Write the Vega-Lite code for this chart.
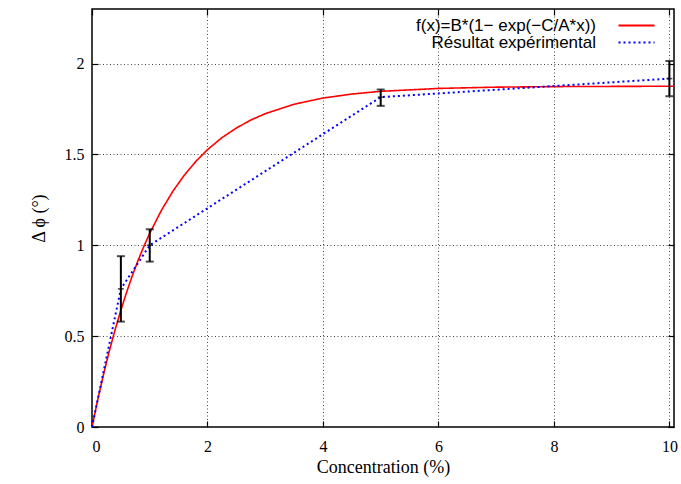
{
  "$schema": "https://vega.github.io/schema/vega-lite/v6.json",
  "width": 582,
  "height": 418,
  "autosize": {"type": "none"},
  "padding": {"left": 92, "top": 9, "right": 7, "bottom": 57},
  "background": "white",
  "config": {
    "view": {"stroke": "#000", "strokeWidth": 1.5},
    "axis": {
      "labelFont": "Liberation Serif", "labelFontSize": 16, "labelColor": "#000",
      "titleFont": "Liberation Serif", "titleFontSize": 18, "titleFontWeight": "normal", "titleColor": "#000",
      "domain": false, "tickColor": "#000", "tickWidth": 1.2, "tickSize": -6,
      "gridColor": "#444", "gridDash": [1, 2.5], "gridWidth": 1, "format": "~r"
    },
    "legend": {"labelFont": "Liberation Sans", "labelFontSize": 17, "labelColor": "#000", "labelLimit": 400}
  },
  "datasets": {
    "curve": [
      {"x": 0, "y": 0, "s": "f(x)=B*(1− exp(−C/A*x))"},
      {"x": 0.1, "y": 0.151, "s": "f(x)=B*(1− exp(−C/A*x))"},
      {"x": 0.2, "y": 0.290, "s": "f(x)=B*(1− exp(−C/A*x))"},
      {"x": 0.3, "y": 0.418, "s": "f(x)=B*(1− exp(−C/A*x))"},
      {"x": 0.4, "y": 0.535, "s": "f(x)=B*(1− exp(−C/A*x))"},
      {"x": 0.5, "y": 0.643, "s": "f(x)=B*(1− exp(−C/A*x))"},
      {"x": 0.6, "y": 0.742, "s": "f(x)=B*(1− exp(−C/A*x))"},
      {"x": 0.7, "y": 0.834, "s": "f(x)=B*(1− exp(−C/A*x))"},
      {"x": 0.8, "y": 0.918, "s": "f(x)=B*(1− exp(−C/A*x))"},
      {"x": 0.9, "y": 0.995, "s": "f(x)=B*(1− exp(−C/A*x))"},
      {"x": 1.0, "y": 1.066, "s": "f(x)=B*(1− exp(−C/A*x))"},
      {"x": 1.2, "y": 1.191, "s": "f(x)=B*(1− exp(−C/A*x))"},
      {"x": 1.4, "y": 1.297, "s": "f(x)=B*(1− exp(−C/A*x))"},
      {"x": 1.6, "y": 1.386, "s": "f(x)=B*(1− exp(−C/A*x))"},
      {"x": 1.8, "y": 1.462, "s": "f(x)=B*(1− exp(−C/A*x))"},
      {"x": 2.0, "y": 1.526, "s": "f(x)=B*(1− exp(−C/A*x))"},
      {"x": 2.25, "y": 1.592, "s": "f(x)=B*(1− exp(−C/A*x))"},
      {"x": 2.5, "y": 1.645, "s": "f(x)=B*(1− exp(−C/A*x))"},
      {"x": 2.75, "y": 1.689, "s": "f(x)=B*(1− exp(−C/A*x))"},
      {"x": 3.0, "y": 1.724, "s": "f(x)=B*(1− exp(−C/A*x))"},
      {"x": 3.5, "y": 1.776, "s": "f(x)=B*(1− exp(−C/A*x))"},
      {"x": 4.0, "y": 1.810, "s": "f(x)=B*(1− exp(−C/A*x))"},
      {"x": 4.5, "y": 1.832, "s": "f(x)=B*(1− exp(−C/A*x))"},
      {"x": 5.0, "y": 1.847, "s": "f(x)=B*(1− exp(−C/A*x))"},
      {"x": 6.0, "y": 1.863, "s": "f(x)=B*(1− exp(−C/A*x))"},
      {"x": 7.0, "y": 1.870, "s": "f(x)=B*(1− exp(−C/A*x))"},
      {"x": 8.0, "y": 1.873, "s": "f(x)=B*(1− exp(−C/A*x))"},
      {"x": 9.0, "y": 1.874, "s": "f(x)=B*(1− exp(−C/A*x))"},
      {"x": 10.0, "y": 1.875, "s": "f(x)=B*(1− exp(−C/A*x))"},
      {"x": 10.08, "y": 1.875, "s": "f(x)=B*(1− exp(−C/A*x))"}
    ],
    "obs": [
      {"x": 0, "y": 0, "lo": 0, "hi": 0, "s": "Résultat expérimental"},
      {"x": 0.5, "y": 0.76, "lo": 0.58, "hi": 0.94, "s": "Résultat expérimental"},
      {"x": 1, "y": 1.0, "lo": 0.91, "hi": 1.088, "s": "Résultat expérimental"},
      {"x": 5, "y": 1.815, "lo": 1.767, "hi": 1.857, "s": "Résultat expérimental"},
      {"x": 10, "y": 1.917, "lo": 1.82, "hi": 2.014, "s": "Résultat expérimental"}
    ]
  },
  "layer": [
    {
      "data": {"name": "curve"},
      "mark": {"type": "line", "strokeWidth": 1.6, "clip": true},
      "encoding": {
        "x": {"field": "x", "type": "quantitative", "scale": {"domain": [0, 10.08], "nice": false, "zero": false},
              "axis": {"values": [0, 2, 4, 6, 8, 10], "title": "Concentration (%)", "labelPadding": 17, "titlePadding": 4, "grid": true}},
        "y": {"field": "y", "type": "quantitative", "scale": {"domain": [0, 2.3], "nice": false, "zero": false},
              "axis": {"values": [0, 0.5, 1, 1.5, 2], "title": "Δ ϕ (°)", "labelPadding": 14, "titlePadding": 16, "grid": true}},
        "color": {"field": "s", "type": "nominal",
                  "scale": {"domain": ["f(x)=B*(1− exp(−C/A*x))", "Résultat expérimental"], "range": ["#ff0000", "#0000ff"]},
                  "legend": {"title": null, "orient": "none", "legendX": 536, "legendY": 8, "symbolType": "M-4,0H4", "symbolSize": 81, "symbolStrokeWidth": 2, "labelAlign": "right", "labelOffset": -49, "rowPadding": -6, "padding": 0}},
        "strokeDash": {"field": "s", "type": "nominal",
                  "scale": {"domain": ["f(x)=B*(1− exp(−C/A*x))", "Résultat expérimental"], "range": [[1, 0], [2, 3]]},
                  "legend": {"title": null, "orient": "none", "legendX": 536, "legendY": 8, "symbolType": "M-4,0H4", "symbolSize": 81, "symbolStrokeWidth": 2, "labelAlign": "right", "labelOffset": -49, "rowPadding": -6, "padding": 0}}
      }
    },
    {
      "data": {"name": "obs"},
      "mark": {"type": "line", "strokeWidth": 2},
      "encoding": {
        "x": {"field": "x", "type": "quantitative", "axis": null},
        "y": {"field": "y", "type": "quantitative", "axis": null},
        "color": {"field": "s", "type": "nominal"},
        "strokeDash": {"field": "s", "type": "nominal"}
      }
    },
    {
      "data": {"name": "obs"},
      "transform": [{"filter": "datum.x > 0"}],
      "mark": {"type": "rule", "color": "#000", "strokeWidth": 2},
      "encoding": {
        "x": {"field": "x", "type": "quantitative", "axis": null},
        "y": {"field": "lo", "type": "quantitative", "axis": null},
        "y2": {"field": "hi"}
      }
    },
    {
      "data": {"name": "obs"},
      "transform": [{"filter": "datum.x > 0"}],
      "mark": {"type": "tick", "color": "#000", "orient": "horizontal", "size": 8, "thickness": 2},
      "encoding": {
        "x": {"field": "x", "type": "quantitative", "axis": null},
        "y": {"field": "lo", "type": "quantitative", "axis": null}
      }
    },
    {
      "data": {"name": "obs"},
      "transform": [{"filter": "datum.x > 0"}],
      "mark": {"type": "tick", "color": "#000", "orient": "horizontal", "size": 8, "thickness": 2},
      "encoding": {
        "x": {"field": "x", "type": "quantitative", "axis": null},
        "y": {"field": "hi", "type": "quantitative", "axis": null}
      }
    },
    {
      "data": {"name": "obs"},
      "transform": [{"filter": "datum.x > 0"}],
      "mark": {"type": "tick", "color": "#000", "orient": "horizontal", "size": 6, "thickness": 1.5},
      "encoding": {
        "x": {"field": "x", "type": "quantitative", "axis": null},
        "y": {"field": "y", "type": "quantitative", "axis": null}
      }
    },
    {
      "data": {"name": "obs"},
      "mark": {"type": "point", "opacity": 0},
      "encoding": {
        "x": {"field": "x", "type": "quantitative", "axis": {"orient": "top", "values": [0, 2, 4, 6, 8, 10], "labels": false, "title": null, "grid": false}},
        "y": {"field": "y", "type": "quantitative", "axis": {"orient": "right", "values": [0, 0.5, 1, 1.5, 2], "labels": false, "title": null, "grid": false}}
      }
    }
  ],
  "resolve": {"axis": {"x": "independent", "y": "independent"}}
}
